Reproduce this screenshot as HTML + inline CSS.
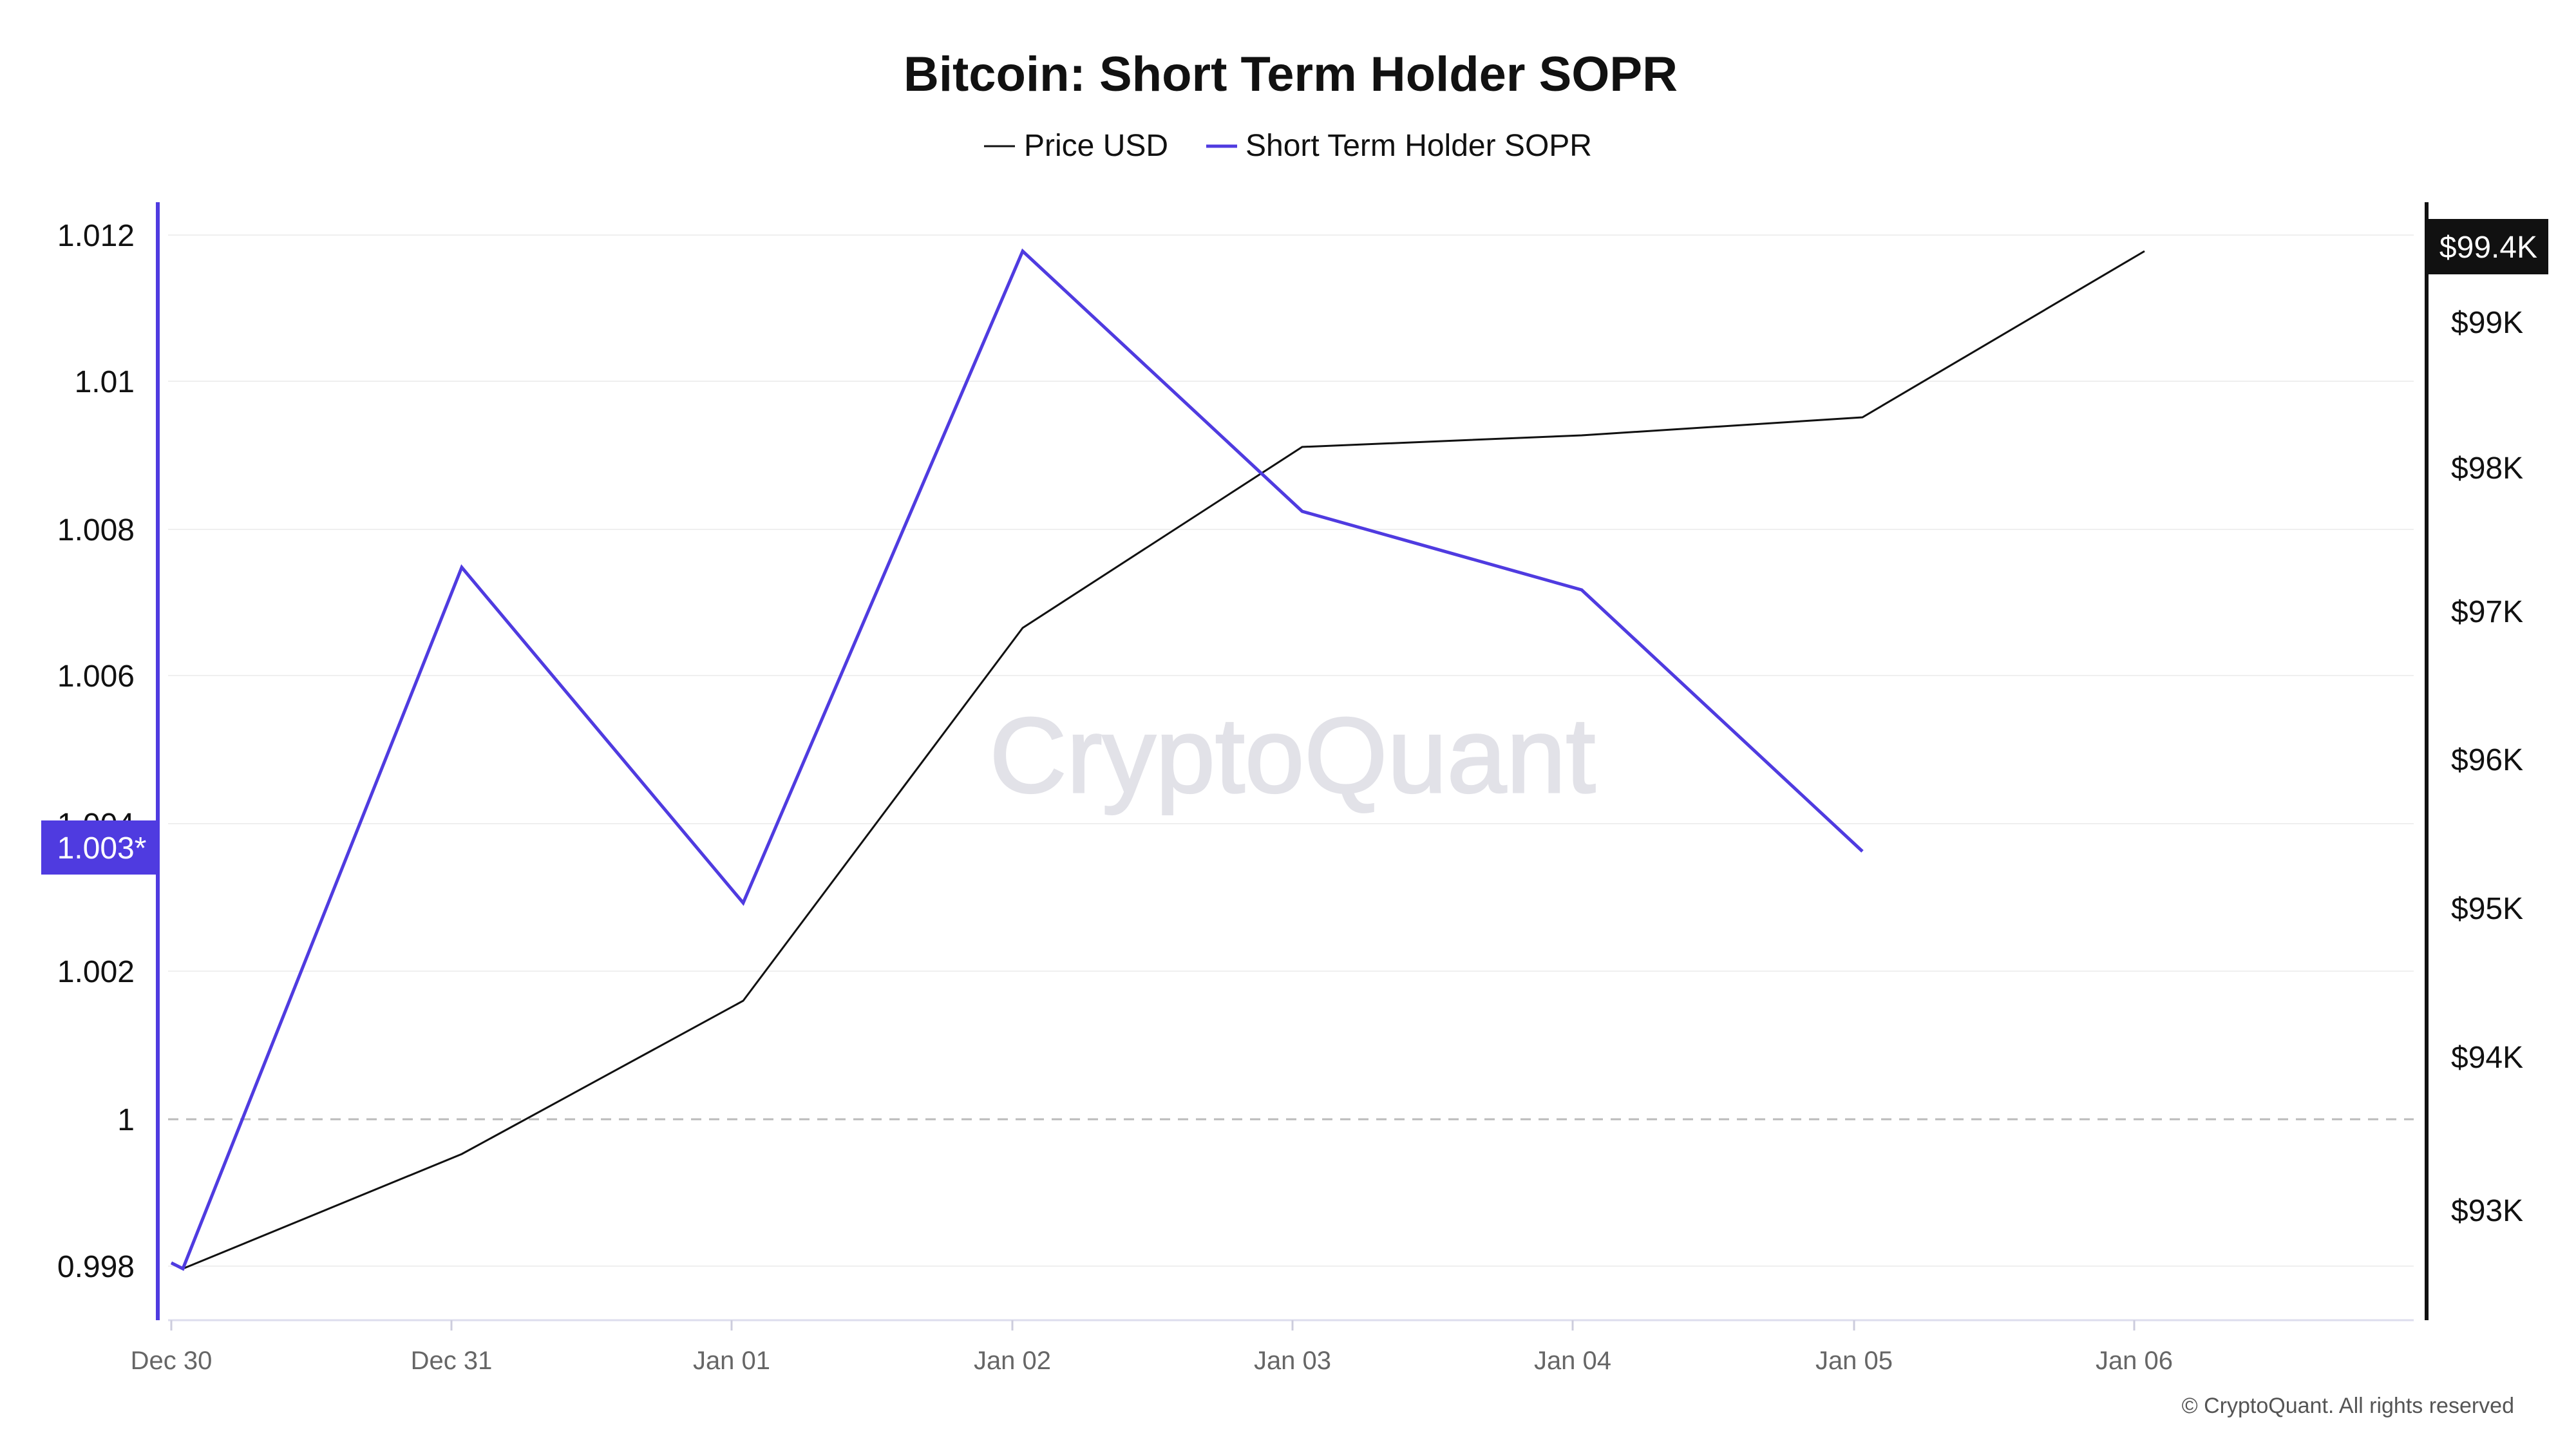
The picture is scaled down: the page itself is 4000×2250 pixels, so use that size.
<!DOCTYPE html>
<html><head><meta charset="utf-8"><style>
html,body{margin:0;padding:0;background:#fff;}
svg{display:block;font-family:"Liberation Sans",sans-serif;}
</style></head><body>
<svg width="4000" height="2250" viewBox="0 0 4000 2250" xmlns="http://www.w3.org/2000/svg">
<rect width="4000" height="2250" fill="#fff"/>
<text x="2004" y="141" text-anchor="middle" font-size="76" font-weight="bold" fill="#111">Bitcoin: Short Term Holder SOPR</text>
<line x1="1528" y1="227" x2="1576" y2="227" stroke="#111" stroke-width="3"/>
<text x="1590" y="242" font-size="48" fill="#111">Price USD</text>
<line x1="1873" y1="227" x2="1921" y2="227" stroke="#4f3be0" stroke-width="5"/>
<text x="1934" y="242" font-size="48" fill="#111">Short Term Holder SOPR</text>
<g stroke="#efefef" stroke-width="2">
<line x1="261" y1="365" x2="3748" y2="365"/><line x1="261" y1="592" x2="3748" y2="592"/>
<line x1="261" y1="822" x2="3748" y2="822"/><line x1="261" y1="1049" x2="3748" y2="1049"/>
<line x1="261" y1="1279" x2="3748" y2="1279"/><line x1="261" y1="1508" x2="3748" y2="1508"/>
<line x1="261" y1="1966" x2="3748" y2="1966"/>
</g>
<line x1="261" y1="1738" x2="3748" y2="1738" stroke="#bbb" stroke-width="3" stroke-dasharray="16,12"/>
<line x1="261" y1="2050" x2="3748" y2="2050" stroke="#dde" stroke-width="3"/>
<g stroke="#ccd" stroke-width="3">
<line x1="266" y1="2050" x2="266" y2="2066"/><line x1="701" y1="2050" x2="701" y2="2066"/>
<line x1="1136" y1="2050" x2="1136" y2="2066"/><line x1="1572" y1="2050" x2="1572" y2="2066"/>
<line x1="2007" y1="2050" x2="2007" y2="2066"/><line x1="2442" y1="2050" x2="2442" y2="2066"/>
<line x1="2879" y1="2050" x2="2879" y2="2066"/><line x1="3314" y1="2050" x2="3314" y2="2066"/>
</g>
<text x="2007" y="1230" text-anchor="middle" font-size="166" fill="#e2e2e8" stroke="#e2e2e8" stroke-width="3">CryptoQuant</text>
<polyline fill="none" stroke="#111" stroke-width="3" points="266,1961 284,1970 717,1792 1154,1554 1588,975 2022,694 2456,676 2892,648 3330,390"/>
<polyline fill="none" stroke="#4f3be0" stroke-width="5" points="266,1961 284,1970 717,881 1154,1402 1588,390 2022,794 2456,916 2892,1322"/>
<line x1="245" y1="314" x2="245" y2="2050" stroke="#4f3be0" stroke-width="6"/>
<line x1="3768" y1="314" x2="3768" y2="2050" stroke="#111" stroke-width="6"/>
<g font-size="48" fill="#111" text-anchor="end">
<text x="209" y="382">1.012</text><text x="209" y="609">1.01</text><text x="209" y="839">1.008</text>
<text x="209" y="1066">1.006</text><text x="209" y="1296">1.004</text><text x="209" y="1525">1.002</text>
<text x="209" y="1755">1</text><text x="209" y="1983">0.998</text>
</g>
<rect x="64" y="1274" width="181" height="84" fill="#4f3be0"/>
<text x="158" y="1333" text-anchor="middle" font-size="48" fill="#fff">1.003*</text>
<g font-size="48" fill="#111">
<text x="3806" y="517">$99K</text><text x="3806" y="743">$98K</text><text x="3806" y="966">$97K</text>
<text x="3806" y="1196">$96K</text><text x="3806" y="1427">$95K</text><text x="3806" y="1658">$94K</text>
<text x="3806" y="1896">$93K</text>
</g>
<rect x="3771" y="340" width="186" height="86" fill="#111"/>
<text x="3864" y="400" text-anchor="middle" font-size="48" fill="#fff">$99.4K</text>
<g font-size="40" fill="#666" text-anchor="middle">
<text x="266" y="2126">Dec 30</text><text x="701" y="2126">Dec 31</text><text x="1136" y="2126">Jan 01</text>
<text x="1572" y="2126">Jan 02</text><text x="2007" y="2126">Jan 03</text><text x="2442" y="2126">Jan 04</text>
<text x="2879" y="2126">Jan 05</text><text x="3314" y="2126">Jan 06</text>
</g>
<text x="3904" y="2194" text-anchor="end" font-size="34" fill="#555">© CryptoQuant. All rights reserved</text>
</svg>
</body></html>
